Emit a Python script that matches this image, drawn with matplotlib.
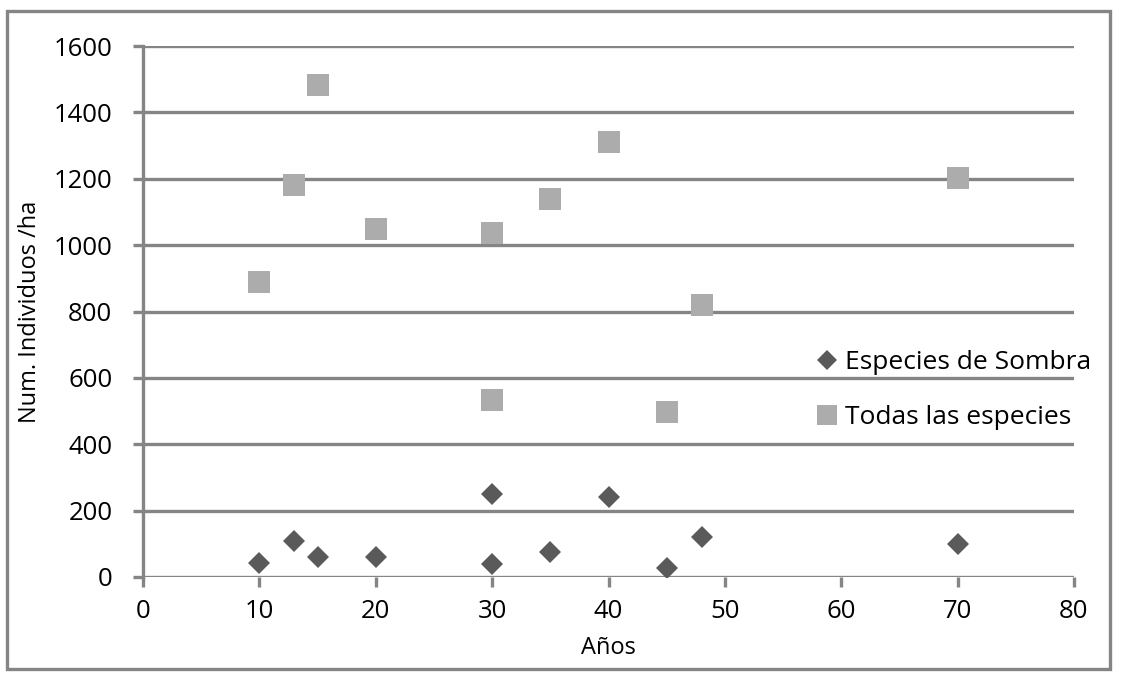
import matplotlib.pyplot as plt
from matplotlib.patches import Rectangle

plt.rcParams['font.family'] = ['Open Sans', 'DejaVu Sans']

# data
anos_sombra = [10, 13, 15, 20, 30, 30, 35, 40, 45, 48, 70]
ind_sombra = [42, 108, 60, 60, 250, 39, 75, 241, 28, 120, 100]

anos_todas = [10, 13, 15, 20, 30, 30, 35, 40, 45, 48, 70]
ind_todas = [889, 1181, 1482, 1049, 1037, 533, 1139, 1311, 497, 820, 1202]

x_ticks = [0, 10, 20, 30, 40, 50, 60, 70, 80]
y_ticks = [0, 200, 400, 600, 800, 1000, 1200, 1400, 1600]

grid_col = '#858585'
lw = 2.4

fig = plt.figure(figsize=(11.23, 6.77), dpi=100)
ax = fig.add_axes([143 / 1123, 1 - 577 / 677, (1074 - 143) / 1123, (577 - 46) / 677])

ax.plot(anos_sombra, ind_sombra, linestyle='none', marker='D', markersize=11.5,
        color='#5a5a5a', markeredgewidth=0, label='Especies de Sombra', zorder=3)
ax.plot(anos_todas, ind_todas, linestyle='none', marker='s', markersize=16,
        color='#acacac', markeredgewidth=0, label='Todas las especies', zorder=3)

ax.set_xlim(0, 80)
ax.set_ylim(0, 1600)
ax.set_xticks(x_ticks)
ax.set_yticks(y_ticks)
ax.yaxis.grid(True, color=grid_col, linewidth=lw)
ax.set_axisbelow(True)

for side in ['top', 'right', 'bottom']:
    ax.spines[side].set_visible(False)
ax.spines['left'].set_color(grid_col)
ax.spines['left'].set_linewidth(lw)
ax.tick_params(axis='both', colors=grid_col, width=lw, length=7, labelcolor='black',
               labelsize=18.5)
ax.tick_params(axis='x', pad=9)
ax.tick_params(axis='y', pad=15)

ax.set_xlabel('Años', fontsize=17)
ax.xaxis.set_label_coords(0.5, -0.112)
ax.set_ylabel('Num. Individuos /ha', fontsize=17)
ax.yaxis.set_label_coords(-0.109, 0.5)

leg = ax.legend(loc='upper left', bbox_to_anchor=(786 / 1123, 1 - 326 / 677),
                bbox_transform=fig.transFigure, frameon=False, fontsize=19,
                handletextpad=0.05, labelspacing=1.15, markerscale=0.9,
                handlelength=1.3)

# outer chart border
fig.patches.append(Rectangle((7 / 1123, 1 - 669 / 677), 1103 / 1123, 658 / 677,
                             transform=fig.transFigure, fill=False,
                             edgecolor=grid_col, linewidth=lw))

fig.savefig('out.png', dpi=100)
